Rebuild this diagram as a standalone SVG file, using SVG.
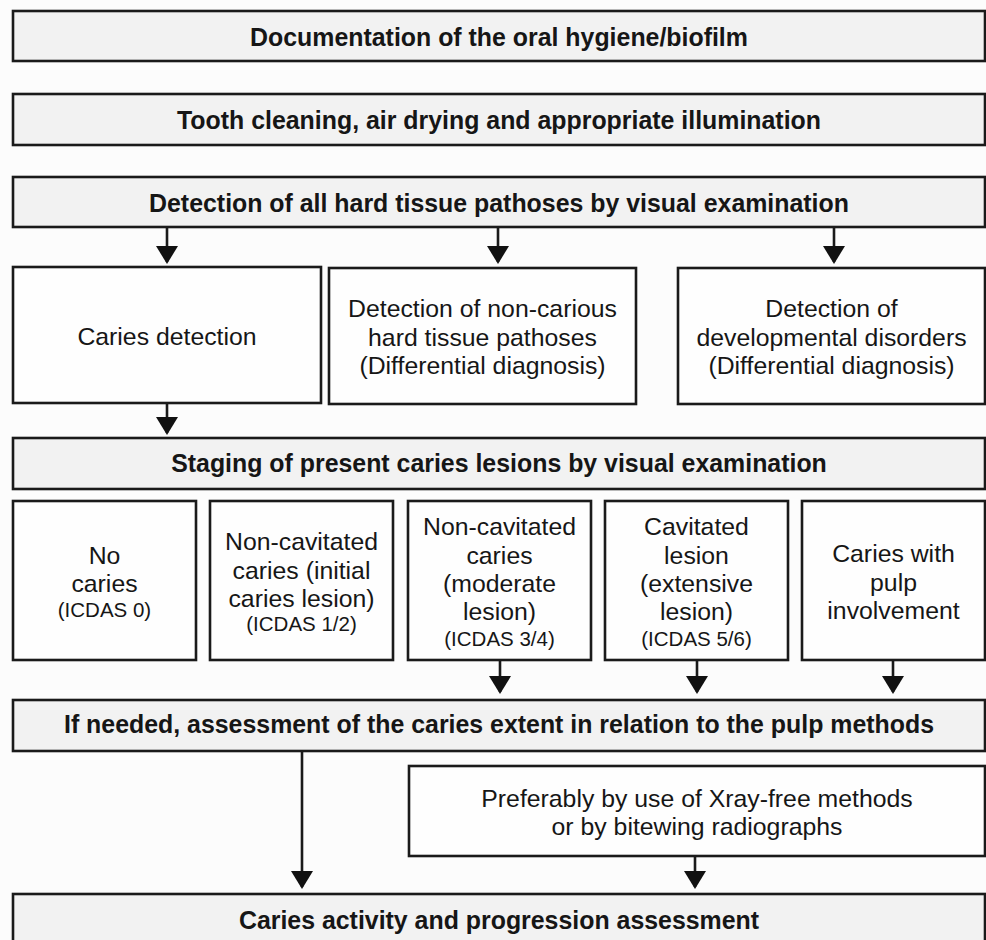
<svg xmlns="http://www.w3.org/2000/svg" width="986" height="940" viewBox="0 0 986 940">
<defs>
<style>
.bg{fill:#fcfcfc}
.hb{fill:#f2f2f2;stroke:#1a1a1a;stroke-width:2.6}
.wb{fill:#fefefe;stroke:#1a1a1a;stroke-width:2.6}
.t{font-family:"Liberation Sans",Arial,sans-serif;fill:#161616;text-anchor:middle}
.b{font-size:24.9px;font-weight:bold}
.n{font-size:24.8px}
.s{font-size:20.5px}
.c{fill:none;stroke:#1a1a1a;stroke-width:2.6}
</style>
<marker id="ah" viewBox="0 0 18 22" refX="16" refY="11" markerWidth="18" markerHeight="22" orient="auto" markerUnits="userSpaceOnUse">
<path d="M0,0 L18,11 L0,22 z" fill="#111"/>
</marker>
</defs>
<rect class="bg" x="0" y="0" width="986" height="940"/>

<g id="connectors">
<path class="c" marker-end="url(#ah)" d="M167,228 V262"/>
<path class="c" marker-end="url(#ah)" d="M498,228 V262"/>
<path class="c" marker-end="url(#ah)" d="M834,228 V262"/>
<path class="c" marker-end="url(#ah)" d="M167,404 V433"/>
<path class="c" marker-end="url(#ah)" d="M500,661 V692"/>
<path class="c" marker-end="url(#ah)" d="M697,661 V692"/>
<path class="c" marker-end="url(#ah)" d="M893,661 V692"/>
<path class="c" marker-end="url(#ah)" d="M302,752 V887"/>
<path class="c" marker-end="url(#ah)" d="M695,857 V887"/>
</g>

<g id="n-doc">
<rect class="hb" x="13" y="11" width="972" height="50"/>
<text class="t b" x="499" y="45.5">Documentation of the oral hygiene/biofilm</text>
</g>
<g id="n-clean">
<rect class="hb" x="13" y="94" width="972" height="51"/>
<text class="t b" x="499" y="129">Tooth cleaning, air drying and appropriate illumination</text>
</g>
<g id="n-detect">
<rect class="hb" x="13" y="177" width="972" height="50"/>
<text class="t b" x="499" y="211.5">Detection of all hard tissue pathoses by visual examination</text>
</g>

<g id="n-caries">
<rect class="wb" x="13" y="267" width="308" height="136"/>
<text class="t n" x="167" y="345">Caries detection</text>
</g>
<g id="n-noncarious">
<rect class="wb" x="329" y="268" width="307" height="136"/>
<text class="t n" x="482.5" y="317">Detection of non-carious</text>
<text class="t n" x="482.5" y="345.5">hard tissue pathoses</text>
<text class="t n" x="482.5" y="374">(Differential diagnosis)</text>
</g>
<g id="n-devel">
<rect class="wb" x="678" y="268" width="307" height="136"/>
<text class="t n" x="831.5" y="317">Detection of</text>
<text class="t n" x="831.5" y="345.5">developmental disorders</text>
<text class="t n" x="831.5" y="374">(Differential diagnosis)</text>
</g>

<g id="n-staging">
<rect class="hb" x="13" y="438" width="972" height="51"/>
<text class="t b" x="499" y="471.5">Staging of present caries lesions by visual examination</text>
</g>

<g id="n-s0">
<rect class="wb" x="13" y="501" width="183" height="159"/>
<text class="t n" x="104.5" y="564">No</text>
<text class="t n" x="104.5" y="592">caries</text>
<text class="t s" x="104.5" y="617">(ICDAS 0)</text>
</g>
<g id="n-s12">
<rect class="wb" x="210" y="501" width="183" height="159"/>
<text class="t n" x="301.5" y="550">Non-cavitated</text>
<text class="t n" x="301.5" y="578.5">caries (initial</text>
<text class="t n" x="301.5" y="607">caries lesion)</text>
<text class="t s" x="301.5" y="631">(ICDAS 1/2)</text>
</g>
<g id="n-s34">
<rect class="wb" x="408" y="501" width="183" height="159"/>
<text class="t n" x="499.5" y="535">Non-cavitated</text>
<text class="t n" x="499.5" y="563.5">caries</text>
<text class="t n" x="499.5" y="592">(moderate</text>
<text class="t n" x="499.5" y="620">lesion)</text>
<text class="t s" x="499.5" y="646">(ICDAS 3/4)</text>
</g>
<g id="n-s56">
<rect class="wb" x="605" y="501" width="183" height="159"/>
<text class="t n" x="696.5" y="535">Cavitated</text>
<text class="t n" x="696.5" y="563.5">lesion</text>
<text class="t n" x="696.5" y="592">(extensive</text>
<text class="t n" x="696.5" y="620">lesion)</text>
<text class="t s" x="696.5" y="646">(ICDAS 5/6)</text>
</g>
<g id="n-pulp">
<rect class="wb" x="802" y="501" width="183" height="159"/>
<text class="t n" x="893.5" y="562">Caries with</text>
<text class="t n" x="893.5" y="590.5">pulp</text>
<text class="t n" x="893.5" y="619">involvement</text>
</g>

<g id="n-assess">
<rect class="hb" x="13" y="700" width="972" height="51"/>
<text class="t b" x="499" y="733">If needed, assessment of the caries extent in relation to the pulp methods</text>
</g>
<g id="n-xray">
<rect class="wb" x="409" y="766" width="576" height="90"/>
<text class="t n" x="697" y="806.5">Preferably by use of Xray-free methods</text>
<text class="t n" x="697" y="835">or by bitewing radiographs</text>
</g>
<g id="n-activity">
<rect class="hb" x="13" y="894" width="972" height="52"/>
<text class="t b" x="499" y="929">Caries activity and progression assessment</text>
</g>
</svg>
